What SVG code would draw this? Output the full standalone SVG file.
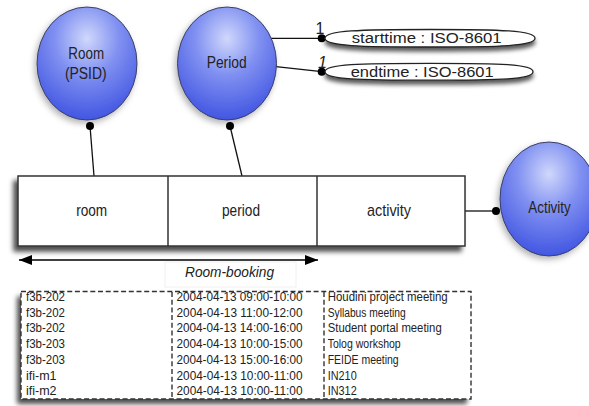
<svg xmlns="http://www.w3.org/2000/svg" width="589" height="406" viewBox="0 0 589 406">
<defs>
<radialGradient id="blue" cx="50%" cy="28%" r="72%">
<stop offset="0" stop-color="#d0d8fb"/>
<stop offset="0.45" stop-color="#8090f1"/>
<stop offset="1" stop-color="#4256e2"/>
</radialGradient>
<filter id="shNode" x="-30%" y="-30%" width="160%" height="160%">
<feDropShadow dx="-2" dy="3" stdDeviation="3" flood-color="#000" flood-opacity="0.3"/>
</filter>
<filter id="shBox" x="-10%" y="-20%" width="120%" height="140%">
<feDropShadow dx="-4" dy="5" stdDeviation="2.5" flood-color="#000" flood-opacity="0.7"/>
</filter>
<filter id="shOval" x="-10%" y="-60%" width="120%" height="220%">
<feDropShadow dx="0" dy="4" stdDeviation="2" flood-color="#000" flood-opacity="0.65"/>
</filter>
<marker id="ah" viewBox="0 0 13 10" refX="13" refY="5" markerWidth="13" markerHeight="10" markerUnits="userSpaceOnUse" orient="auto-start-reverse">
<path d="M0,0 L13,5 L0,10 Z" fill="#000"/>
</marker>
<style>
text { font-family: "Liberation Sans", Arial, Helvetica, sans-serif; fill: #222; }
.node { fill: url(#blue); stroke: #3a3f66; stroke-width: 1; filter: url(#shNode); }
.nl { font-size: 16px; text-anchor: middle; }
.tl { font-size: 17px; text-anchor: middle; }
.oval { fill: #fff; stroke: #222; stroke-width: 1.3; filter: url(#shOval); }
.ot { font-size: 15.5px; }
.conn { stroke: #111; stroke-width: 1.3; fill: none; }
.dot { fill: #000; }
.row { font-size: 12.5px; }
.dash { fill: none; stroke: #333; stroke-width: 1.4; stroke-dasharray: 5 2.7; }
</style>
</defs>
<rect width="589" height="406" fill="#fff"/>

<g id="connectors">
<line class="conn" x1="90" y1="126" x2="94" y2="176"/>
<circle class="dot" cx="90" cy="126" r="4"/>
<line class="conn" x1="230" y1="126" x2="242" y2="176"/>
<circle class="dot" cx="230" cy="126" r="4"/>
<line class="conn" x1="271" y1="38.3" x2="321.7" y2="38.3"/>
<circle class="dot" cx="321.7" cy="38.3" r="4"/>
<line class="conn" x1="276" y1="66.7" x2="321.7" y2="71.7"/>
<circle class="dot" cx="321.7" cy="71.7" r="4"/>
<line class="conn" x1="465" y1="211" x2="496" y2="211"/>
<circle class="dot" cx="496" cy="211" r="4"/>
<text x="320" y="34" font-size="16" text-anchor="middle">1</text>
<text x="322.5" y="68" font-size="16" font-style="italic" text-anchor="middle">1</text>
</g>

<g id="room-node">
<ellipse class="node" cx="87" cy="63.5" rx="50" ry="56.5"/>
<text class="nl" x="86.2" y="59.3" textLength="35.7" lengthAdjust="spacingAndGlyphs">Room</text>
<text class="nl" x="85.8" y="79.3" textLength="41.7" lengthAdjust="spacingAndGlyphs">(PSID)</text>
</g>

<g id="period-node">
<ellipse class="node" cx="227" cy="63.5" rx="49.5" ry="56.5"/>
<text class="nl" x="226.7" y="68.3" textLength="40" lengthAdjust="spacingAndGlyphs">Period</text>
</g>

<g id="activity-node">
<ellipse class="node" cx="549" cy="199" rx="49" ry="57"/>
<text class="nl" x="549.5" y="213" textLength="42.3" lengthAdjust="spacingAndGlyphs">Activity</text>
</g>

<g id="starttime">
<path class="oval" d="M325,38.3 C325,30.5 360,29.5 430,29.5 C500,29.5 535,30.5 535,38.3 C535,46 500,47 430,47 C360,47 325,46 325,38.3 Z"/>
<text class="ot" x="351.7" y="42.5" textLength="150" lengthAdjust="spacingAndGlyphs">starttime : ISO-8601</text>
</g>

<g id="endtime">
<path class="oval" d="M325,71.7 C325,64 360,63.3 430,63.3 C500,63.3 533,64 533,71.7 C533,79.4 500,80.2 430,80.2 C360,80.2 325,79.4 325,71.7 Z"/>
<text class="ot" x="350.7" y="76.5" textLength="143" lengthAdjust="spacingAndGlyphs">endtime : ISO-8601</text>
</g>

<g id="room-booking-table">
<rect x="18" y="176" width="447" height="70" fill="#fff" stroke="#333" stroke-width="1.5" filter="url(#shBox)"/>
<line x1="168" y1="176" x2="168" y2="246" stroke="#333" stroke-width="1.5"/>
<line x1="317" y1="176" x2="317" y2="246" stroke="#333" stroke-width="1.5"/>
<text class="tl" x="91.7" y="216" textLength="31" lengthAdjust="spacingAndGlyphs">room</text>
<text class="tl" x="241" y="216" textLength="38" lengthAdjust="spacingAndGlyphs">period</text>
<text class="tl" x="389" y="216" textLength="44" lengthAdjust="spacingAndGlyphs">activity</text>
</g>

<g id="room-booking-label">
<line x1="19" y1="260" x2="318" y2="260" stroke="#000" stroke-width="1.5" marker-start="url(#ah)" marker-end="url(#ah)"/>
<rect x="165" y="262" width="131" height="25" fill="#fff" stroke="#f0f0f0" stroke-width="1"/>
<text x="229.5" y="277" font-size="15.5" font-style="italic" text-anchor="middle" textLength="89" lengthAdjust="spacingAndGlyphs">Room-booking</text>
</g>

<g id="data-table">
<rect x="21" y="291.5" width="450" height="107.5" fill="#fff" stroke="none" filter="url(#shBox)"/>
<rect class="dash" x="21" y="291.5" width="450" height="107.5"/>
<line class="dash" x1="172" y1="292" x2="172" y2="399" stroke-width="1"/>
<line class="dash" x1="324" y1="292" x2="324" y2="399" stroke-width="1"/>
<g class="row">
<text x="26" y="301" textLength="39" lengthAdjust="spacingAndGlyphs">f3b-202</text>
<text x="26" y="316.7" textLength="39" lengthAdjust="spacingAndGlyphs">f3b-202</text>
<text x="26" y="332.4" textLength="39" lengthAdjust="spacingAndGlyphs">f3b-202</text>
<text x="26" y="348.1" textLength="39" lengthAdjust="spacingAndGlyphs">f3b-203</text>
<text x="26" y="363.8" textLength="39" lengthAdjust="spacingAndGlyphs">f3b-203</text>
<text x="26" y="379.5">ifi-m1</text>
<text x="26" y="395.2">ifi-m2</text>
</g>
<g class="row">
<text x="176.5" y="301" textLength="126" lengthAdjust="spacingAndGlyphs">2004-04-13 09:00-10:00</text>
<text x="176.5" y="316.7" textLength="126" lengthAdjust="spacingAndGlyphs">2004-04-13 11:00-12:00</text>
<text x="176.5" y="332.4" textLength="126" lengthAdjust="spacingAndGlyphs">2004-04-13 14:00-16:00</text>
<text x="176.5" y="348.1" textLength="126" lengthAdjust="spacingAndGlyphs">2004-04-13 10:00-15:00</text>
<text x="176.5" y="363.8" textLength="126" lengthAdjust="spacingAndGlyphs">2004-04-13 15:00-16:00</text>
<text x="176.5" y="379.5" textLength="126" lengthAdjust="spacingAndGlyphs">2004-04-13 10:00-11:00</text>
<text x="176.5" y="395.2" textLength="126" lengthAdjust="spacingAndGlyphs">2004-04-13 10:00-11:00</text>
</g>
<g class="row">
<text x="327.7" y="301" textLength="120" lengthAdjust="spacingAndGlyphs">Houdini project meeting</text>
<text x="327.7" y="316.7" textLength="78" lengthAdjust="spacingAndGlyphs">Syllabus meeting</text>
<text x="327.7" y="332.4" textLength="114" lengthAdjust="spacingAndGlyphs">Student portal meeting</text>
<text x="327.7" y="348.1" textLength="73" lengthAdjust="spacingAndGlyphs">Tolog workshop</text>
<text x="327.7" y="363.8" textLength="71" lengthAdjust="spacingAndGlyphs">FEIDE meeting</text>
<text x="327.7" y="379.5" textLength="29" lengthAdjust="spacingAndGlyphs">IN210</text>
<text x="327.7" y="395.2" textLength="29" lengthAdjust="spacingAndGlyphs">IN312</text>
</g>
</g>
</svg>
